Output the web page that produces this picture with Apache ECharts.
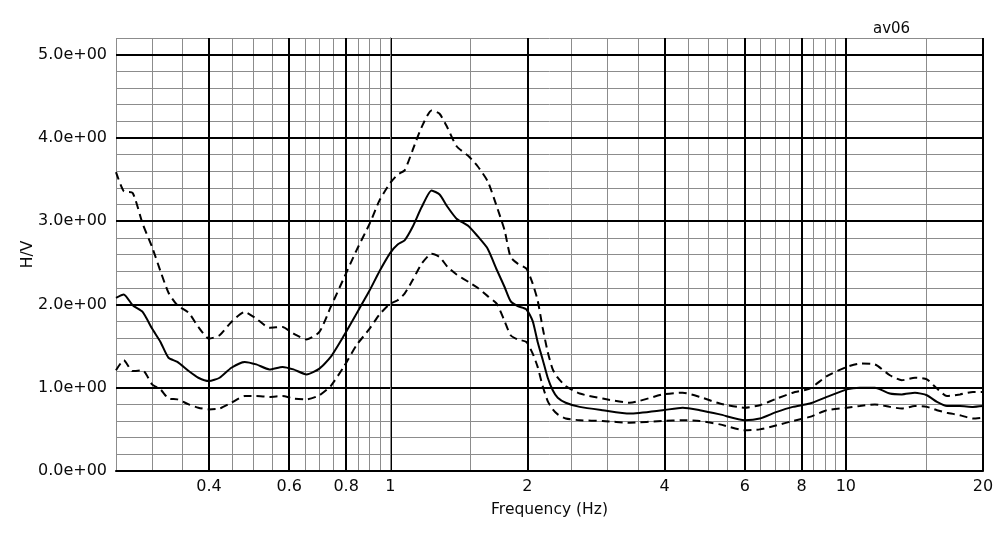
<!DOCTYPE html>
<html>
<head>
<meta charset="utf-8">
<script src="https://cdn.jsdelivr.net/npm/echarts@6/dist/echarts.min.js"></script>
<style>
html,body{margin:0;padding:0;background:#fff;}
#chart{width:1002px;height:538px;}
</style>
</head>
<body>
<div id="chart"></div>
<script>
const freqs = [0.25,0.26,0.272,0.286,0.30,0.313,0.326,0.341,0.361,0.379,0.40,0.422,0.448,0.479,0.508,0.543,0.580,0.613,0.655,0.699,0.740,0.790,0.843,0.901,0.947,1.0,1.038,1.075,1.119,1.172,1.232,1.283,1.336,1.398,1.486,1.555,1.636,1.712,1.782,1.837,1.904,1.99,2.054,2.106,2.160,2.216,2.273,2.331,2.427,2.605,2.926,3.355,3.964,4.385,4.779,5.288,6.0,6.474,7.055,7.647,8.335,9.085,10.05,10.73,11.58,12.49,13.27,14.18,15.06,15.85,16.67,17.80,19.01,20.0];
const hvMean = [2.08,2.12,1.99,1.91,1.71,1.55,1.36,1.31,1.20,1.12,1.08,1.12,1.24,1.31,1.28,1.22,1.25,1.22,1.16,1.23,1.37,1.62,1.89,2.17,2.40,2.62,2.72,2.77,2.93,3.17,3.37,3.32,3.17,3.03,2.94,2.82,2.67,2.42,2.21,2.04,1.98,1.94,1.80,1.55,1.34,1.12,0.97,0.88,0.82,0.77,0.73,0.69,0.73,0.76,0.73,0.68,0.61,0.63,0.71,0.77,0.81,0.89,0.98,1.00,1.00,0.93,0.92,0.94,0.91,0.83,0.78,0.78,0.77,0.78];
const hvUpper = [3.59,3.36,3.34,2.97,2.69,2.40,2.14,1.99,1.90,1.73,1.59,1.63,1.79,1.91,1.83,1.72,1.73,1.65,1.58,1.67,1.97,2.31,2.65,2.97,3.25,3.46,3.56,3.61,3.85,4.13,4.33,4.29,4.12,3.90,3.78,3.66,3.48,3.18,2.89,2.57,2.49,2.43,2.25,2.05,1.72,1.43,1.22,1.12,1.02,0.93,0.87,0.82,0.92,0.94,0.89,0.81,0.76,0.79,0.87,0.94,0.99,1.14,1.25,1.29,1.28,1.15,1.09,1.12,1.10,0.99,0.90,0.92,0.95,0.95];
const hvLower = [1.21,1.33,1.20,1.21,1.04,0.98,0.87,0.86,0.80,0.76,0.74,0.75,0.82,0.90,0.90,0.89,0.90,0.87,0.86,0.91,1.02,1.25,1.51,1.71,1.88,2.01,2.05,2.13,2.29,2.49,2.61,2.57,2.45,2.36,2.27,2.20,2.10,2.01,1.80,1.63,1.58,1.55,1.41,1.25,1.02,0.84,0.74,0.68,0.63,0.61,0.60,0.58,0.60,0.61,0.60,0.56,0.49,0.50,0.55,0.60,0.65,0.73,0.76,0.78,0.80,0.77,0.75,0.78,0.77,0.73,0.70,0.67,0.63,0.64];
const majorFreqTicks = [0.4,0.6,0.8,1,2,4,6,8,10,20];
const minorFreqTicks = [0.25,0.3,0.35,0.45,0.5,0.55,0.65,0.7,0.75,0.85,0.9,0.95,1.5,2.5,3,3.5,4.5,5,5.5,6.5,7,7.5,8.5,9,9.5,15];
const yLabelTicks = [0,1,2,3,4,5];
const freqMin = 0.25, freqMax = 20;
const hvMin = 0, hvMax = 5.2, hvMinorStep = 0.2;

const lg = v => Math.log10(v);
const toData = arr => freqs.map((f, i) => [lg(f), arr[i]]);
const fmtExp = v => {
  const s = Number(v).toExponential(1);
  const parts = s.split('e');
  const sign = parts[1][0];
  const digits = parts[1].slice(1).padStart(2, '0');
  return parts[0] + 'e' + sign + digits;
};
const FONT = 'DejaVu Sans';
const BOLD = '#000';
const THIN = '#8c8c8c';
const TXT = '#0a0a0a';

const chart = echarts.init(document.getElementById('chart'), null, {renderer: 'canvas'});
chart.setOption({
  animation: false,
  backgroundColor: '#fff',
  title: {
    text: 'av06', left: 868, top: 17,
    textStyle: {fontFamily: FONT, fontSize: 15, fontWeight: 'normal', color: TXT}
  },
  grid: {left: 116, right: 19, top: 38, bottom: 67, show: false},
  xAxis: [
    {
      type: 'value', position: 'bottom', min: lg(freqMin), max: lg(freqMax), z: 3,
      name: 'Frequency (Hz)', nameLocation: 'middle', nameGap: 31,
      nameTextStyle: {fontFamily: FONT, fontSize: 15.5, color: TXT},
      axisLine: {show: true, lineStyle: {color: BOLD, width: 2}},
      axisTick: {show: false, customValues: majorFreqTicks.map(lg)},
      axisLabel: {
        customValues: majorFreqTicks.map(lg), margin: 8,
        fontFamily: FONT, fontSize: 16, color: TXT,
        formatter: v => String(parseFloat(Math.pow(10, v).toPrecision(3)))
      },
      splitLine: {show: true, lineStyle: {color: BOLD, width: 2}}
    },
    {
      type: 'value', position: 'top', min: lg(freqMin), max: lg(freqMax), z: 1,
      axisLine: {show: true, lineStyle: {color: THIN, width: 1}},
      axisTick: {show: false, customValues: minorFreqTicks.map(lg)},
      axisLabel: {show: false, customValues: minorFreqTicks.map(lg)},
      splitLine: {show: true, lineStyle: {color: THIN, width: 1}}
    }
  ],
  yAxis: [
    {
      type: 'value', position: 'left', min: hvMin, max: hvMax, interval: 1, z: 3,
      name: 'H/V', nameLocation: 'middle', nameGap: 80, nameMoveOverlap: false,
      nameTextStyle: {fontFamily: FONT, fontSize: 15.5, color: TXT},
      axisLine: {show: true, lineStyle: {color: THIN, width: 1}},
      axisTick: {show: true, length: 6, customValues: yLabelTicks, lineStyle: {color: BOLD, width: 1}},
      axisLabel: {
        customValues: yLabelTicks, margin: 9,
        fontFamily: FONT, fontSize: 16, color: TXT,
        formatter: v => fmtExp(v)
      },
      splitLine: {show: true, lineStyle: {color: BOLD, width: 2}}
    },
    {
      type: 'value', position: 'right', min: hvMin, max: hvMax, interval: hvMinorStep, z: 1,
      axisLine: {show: true, lineStyle: {color: THIN, width: 1}},
      axisTick: {show: false},
      axisLabel: {show: false},
      splitLine: {show: true, lineStyle: {color: THIN, width: 1}}
    }
  ],
  series: [
    {
      type: 'line', name: 'upper', data: toData(hvUpper), xAxisIndex: 0, yAxisIndex: 0,
      showSymbol: false, smooth: 0.2, z: 5, silent: true,
      lineStyle: {color: '#000', width: 2, type: [8, 5]}
    },
    {
      type: 'line', name: 'mean', data: toData(hvMean), xAxisIndex: 0, yAxisIndex: 0,
      showSymbol: false, smooth: 0.2, z: 5, silent: true,
      lineStyle: {color: '#000', width: 2, type: 'solid'}
    },
    {
      type: 'line', name: 'lower', data: toData(hvLower), xAxisIndex: 0, yAxisIndex: 0,
      showSymbol: false, smooth: 0.2, z: 5, silent: true,
      lineStyle: {color: '#000', width: 2, type: [8, 5]}
    }
  ]
});
</script>
</body>
</html>
